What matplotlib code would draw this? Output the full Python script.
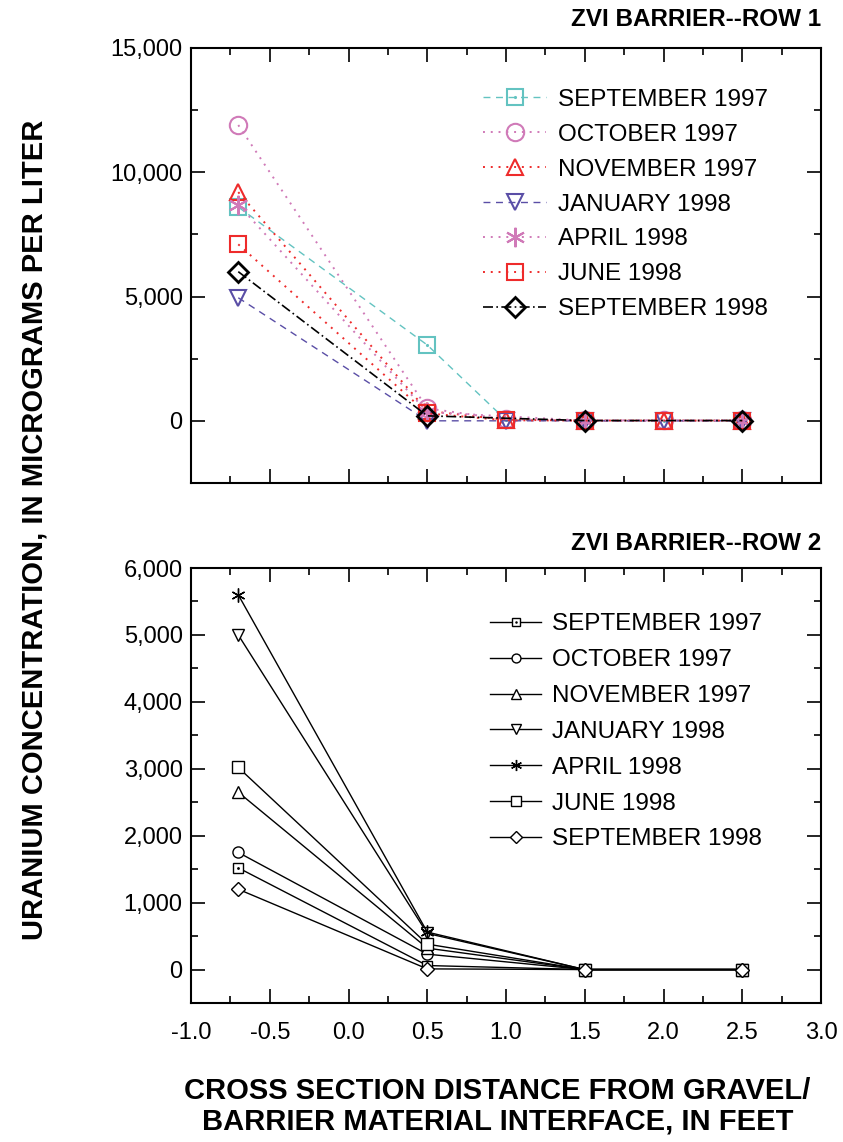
import numpy as np
import matplotlib.pyplot as plt
from matplotlib.ticker import MultipleLocator, FuncFormatter
from matplotlib.legend_handler import HandlerTuple

plt.rcParams['font.family'] = ['Liberation Sans', 'DejaVu Sans']
plt.rcParams['axes.unicode_minus'] = False

labels = ['SEPTEMBER 1997', 'OCTOBER 1997', 'NOVEMBER 1997', 'JANUARY 1998',
          'APRIL 1998', 'JUNE 1998', 'SEPTEMBER 1998']

# row 1 sampling (some months were not sampled at 1.0 and 2.0 ft)
x_full = [-0.7, 0.5, 1.0, 1.5, 2.0, 2.5]
x_part = [-0.7, 0.5, 1.5, 2.5]
r1_sep97 = [8600, 3050, 30, 10, 10, 10]
r1_oct97 = [11900, 500, 60, 20, 20, 20]
r1_nov97 = [9200, 400, 40, 10, 10, 10]
r1_jan98 = [4950, 0, 0, 0, 0, 0]
r1_apr98 = [8700, 350, 10, 10]
r1_jun98 = [7100, 300, 20, 10, 10, 10]
r1_sep98 = [6000, 200, 10, 10]

# row 2
x_row2 = [-0.7, 0.5, 1.5, 2.5]
r2_sep97 = [1520, 60, 0, 0]
r2_oct97 = [1750, 230, 0, 0]
r2_nov97 = [2650, 320, 0, 0]
r2_jan98 = [5000, 540, 0, 0]
r2_apr98 = [5600, 560, 0, 0]
r2_jun98 = [3020, 380, 0, 0]
r2_sep98 = [1200, 10, 0, 0]

fig = plt.figure(figsize=(8.43, 11.42), dpi=100)
ax1 = fig.add_axes([0.2266, 0.5771, 0.7473, 0.3809])
ax2 = fig.add_axes([0.2266, 0.1217, 0.7473, 0.3809])

comma = FuncFormatter(lambda v, p: '{:,.0f}'.format(v))


def style_axes(ax, ymin, ymax, ymaj, ymin_step):
    ax.set_xlim(-1.0, 3.0)
    ax.set_ylim(ymin, ymax)
    ax.xaxis.set_major_locator(MultipleLocator(0.5))
    ax.xaxis.set_minor_locator(MultipleLocator(0.25))
    ax.yaxis.set_major_locator(MultipleLocator(ymaj))
    ax.yaxis.set_minor_locator(MultipleLocator(ymin_step))
    ax.yaxis.set_major_formatter(comma)
    ax.tick_params(which='both', direction='in', top=True, right=True, width=1.2)
    ax.tick_params(which='major', length=10)
    ax.tick_params(which='minor', length=5)
    ax.tick_params(axis='y', labelsize=17, pad=6)
    ax.tick_params(axis='x', labelsize=17, pad=14)
    for s in ax.spines.values():
        s.set_linewidth(1.5)


style_axes(ax1, -2500, 15000, 5000, 2500)
style_axes(ax2, -500, 6000, 1000, 500)
ax1.tick_params(axis='x', labelbottom=False)

# row 1 - coloured series
teal, orchid, red, purple = '#63c3c1', '#d07ab8', '#ee2b2b', '#5a4ea6'
mk = dict(markersize=11.5, markeredgewidth=1.5, markerfacecolor='none')
h = []
l, = ax1.plot(x_full, r1_sep97, ls=(0, (5, 4)), lw=1, color=teal, marker='s', **mk)
d, = ax1.plot(x_full, r1_sep97, ls='none', marker='.', markersize=2.5, color=teal)
h.append((l, d))
h.append(ax1.plot(x_full, r1_oct97, ls=(0, (1, 3)), lw=1.4, color=orchid, marker='o',
                  markersize=12.5, markeredgewidth=1.5, markerfacecolor='none')[0])
h.append(ax1.plot(x_full, r1_nov97, ls=(0, (1, 3)), lw=1.4, color=red, marker='^', **mk)[0])
h.append(ax1.plot(x_full, r1_jan98, ls=(0, (5, 4)), lw=1, color=purple, marker='v', **mk)[0])
h.append(ax1.plot(x_part, r1_apr98, ls=(0, (1, 3)), lw=1.4, color=orchid, marker=(6, 2, 0),
                  markersize=14, markeredgewidth=1.5)[0])
h.append(ax1.plot(x_full, r1_jun98, ls=(0, (1, 3)), lw=1.4, color=red, marker='s', **mk)[0])
h.append(ax1.plot(x_part, r1_sep98, ls=(0, (6, 2, 1, 2)), lw=1.2, color='black', marker='D',
                  markersize=10.5, markeredgewidth=2, markerfacecolor='none')[0])

ax1.legend(h, labels, loc='upper left', bbox_to_anchor=(0.4635, 0.906), frameon=False,
           fontsize=17.5, handlelength=2.6, handletextpad=0.5, labelspacing=0.53,
           borderpad=0, borderaxespad=0, numpoints=1,
           handler_map={tuple: HandlerTuple(ndivide=1)})

# row 2 - black series
mk2 = dict(color='black', lw=1, markerfacecolor='white', markeredgewidth=1)
h2 = []
l, = ax2.plot(x_row2, r2_sep97, marker='s', markersize=7, **mk2)
d, = ax2.plot(x_row2, r2_sep97, ls='none', marker='.', markersize=2, color='black')
h2.append((l, d))
h2.append(ax2.plot(x_row2, r2_oct97, marker='o', markersize=8, **mk2)[0])
h2.append(ax2.plot(x_row2, r2_nov97, marker='^', markersize=9, **mk2)[0])
h2.append(ax2.plot(x_row2, r2_jan98, marker='v', markersize=9, **mk2)[0])
h2.append(ax2.plot(x_row2, r2_apr98, marker=(6, 2, 0), markersize=10, color='black', lw=1,
                   markeredgewidth=1)[0])
h2.append(ax2.plot(x_row2, r2_jun98, marker='s', markersize=8.5, **mk2)[0])
h2.append(ax2.plot(x_row2, r2_sep98, marker='D', markersize=7.5, **mk2)[0])

ax2.legend(h2, labels, loc='upper left', bbox_to_anchor=(0.4746, 0.896), frameon=False,
           fontsize=17.5, handlelength=2.1, handletextpad=0.45, labelspacing=0.57,
           borderpad=0, borderaxespad=0, numpoints=1, markerscale=0.8,
           handler_map={tuple: HandlerTuple(ndivide=1)})

fig.text(0.9739, 0.9825, 'ZVI BARRIER--ROW 1', ha='right', va='center',
         fontsize=17.5, fontweight='bold')
fig.text(0.9739, 0.5237, 'ZVI BARRIER--ROW 2', ha='right', va='center',
         fontsize=17.5, fontweight='bold')

cond = ['Liberation Sans Narrow', 'Liberation Sans', 'DejaVu Sans']
fig.text(0.0415, 0.536, 'URANIUM CONCENTRATION, IN MICROGRAMS PER LITER',
         rotation=90, ha='center', va='center', fontsize=21, fontweight='bold', family=cond)
fig.text(0.59, 0.0315, 'CROSS SECTION DISTANCE FROM GRAVEL/\nBARRIER MATERIAL INTERFACE, IN FEET',
         ha='center', va='center', fontsize=21, fontweight='bold', family=cond,
         linespacing=1.1)

fig.savefig('out.png', dpi=100)
